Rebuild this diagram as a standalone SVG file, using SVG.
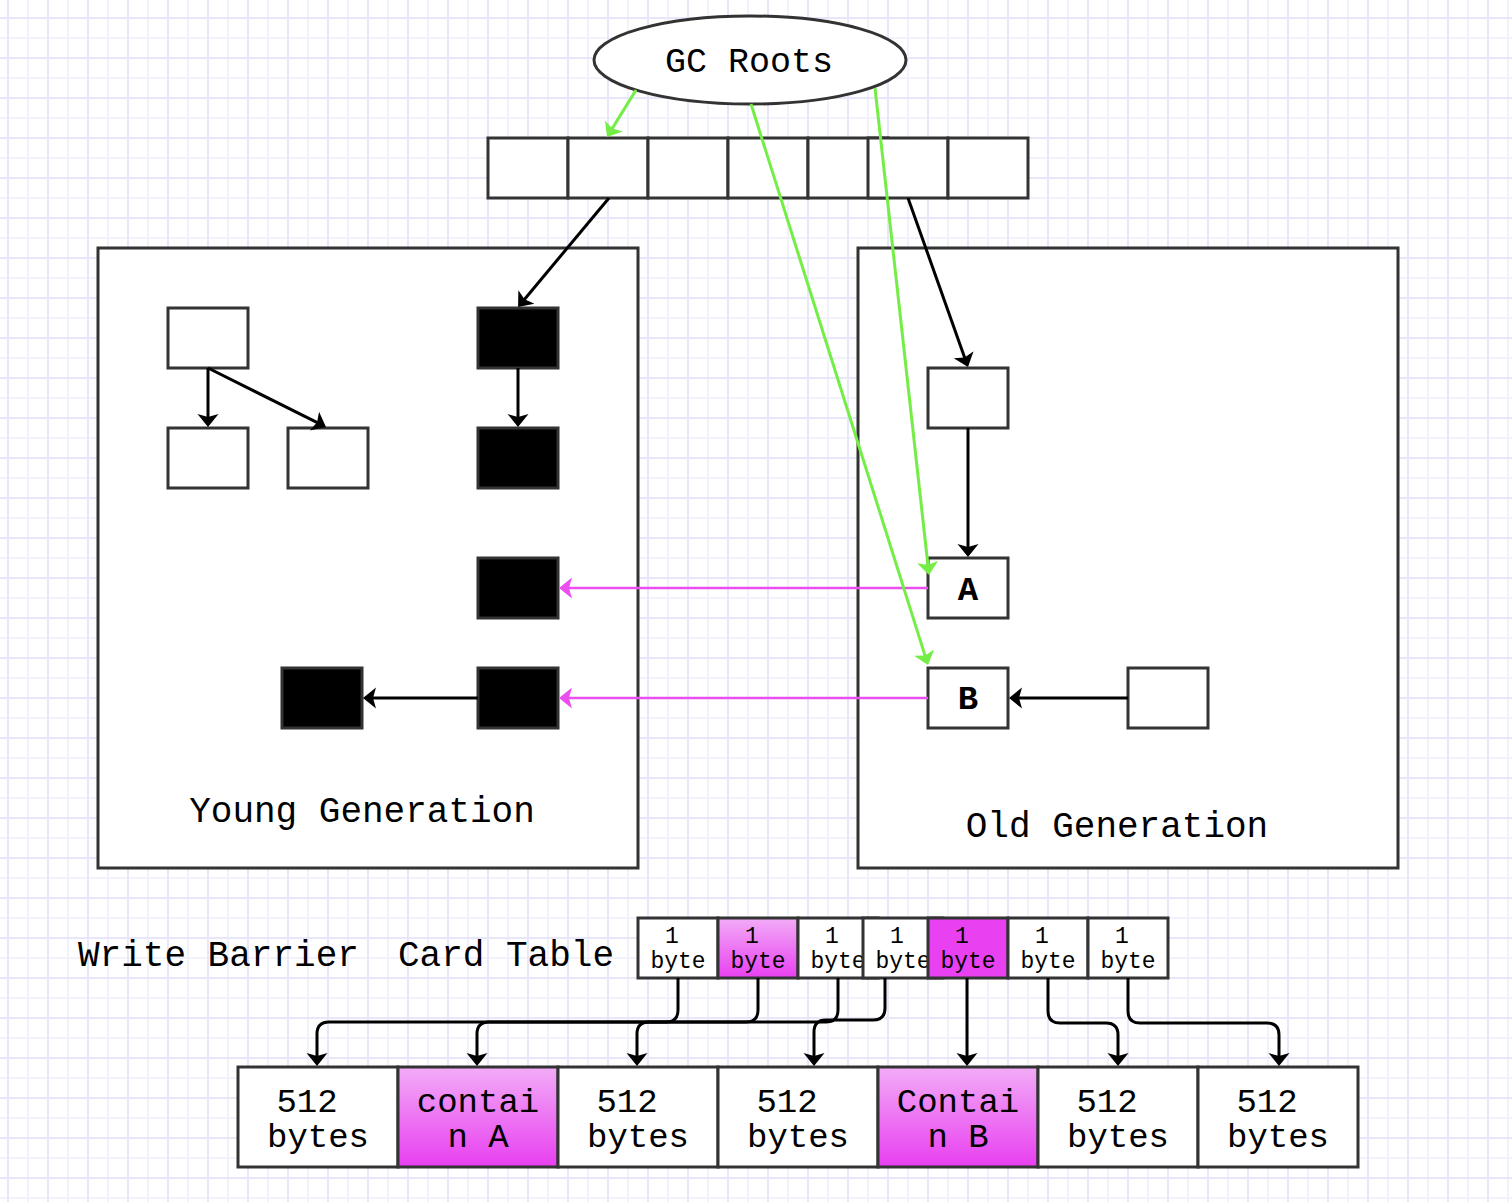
<svg xmlns="http://www.w3.org/2000/svg" width="1512" height="1202" viewBox="0 0 1512 1202">
<style>
.box{fill:#fff;stroke:#333;stroke-width:3}
.blk{fill:#000;stroke:#333;stroke-width:3}
.t{font-family:"Liberation Mono","Courier New",monospace;fill:#000}
.big{font-size:36px}
.mid{font-size:35px}
.card{font-size:34px}
.sm{font-size:23px}
.bold{font-weight:bold;font-size:34px}
.ln{fill:none;stroke:#000;stroke-width:3}
.gr{fill:none;stroke:#74ee46;stroke-width:3}
.mg{fill:none;stroke:#ec4ff0;stroke-width:2.5}
</style>
<defs>
<pattern id="grid" patternUnits="userSpaceOnUse" x="7" y="17" width="40" height="40">
<rect width="40" height="40" fill="#fff"/>
<path d="M21,0 V40 M0,21 H40" stroke="#f2f2fd" stroke-width="2"/>
<path d="M1,0 V40 M0,1 H40" stroke="#e7e7f9" stroke-width="2"/>
</pattern>
<linearGradient id="pinkg" x1="0" y1="0" x2="0" y2="1">
<stop offset="0" stop-color="#f2acf7"/>
<stop offset="1" stop-color="#e83ff0"/>
</linearGradient>
<marker id="ah" markerUnits="userSpaceOnUse" markerWidth="16" markerHeight="24" viewBox="0 0 16 24" refX="10" refY="12" orient="auto">
<path d="M13,12 L0,1.5 L3,12 L0,22.5 Z" fill="#000"/>
</marker>
<marker id="ahg" markerUnits="userSpaceOnUse" markerWidth="16" markerHeight="24" viewBox="0 0 16 24" refX="10" refY="12" orient="auto">
<path d="M13,12 L0,1.5 L3,12 L0,22.5 Z" fill="#74ee46"/>
</marker>
<marker id="ahm" markerUnits="userSpaceOnUse" markerWidth="16" markerHeight="24" viewBox="0 0 16 24" refX="10" refY="12" orient="auto">
<path d="M13,12 L0,1.5 L3,12 L0,22.5 Z" fill="#ec4ff0"/>
</marker>
</defs>
<rect x="0" y="0" width="1512" height="1202" fill="url(#grid)"/>

<g id="young-generation">
<rect class="box" x="98" y="248" width="540" height="620"/>
<text class="t big" x="362" y="822" text-anchor="middle">Young Generation</text>
</g>
<g id="old-generation">
<rect class="box" x="858" y="248" width="540" height="620"/>
<text class="t big" x="1117" y="837" text-anchor="middle">Old Generation</text>
</g>

<g id="gc-roots">
<ellipse cx="750" cy="60" rx="156" ry="44" fill="#fff" stroke="#333" stroke-width="3"/>
<text class="t mid" x="749" y="72" text-anchor="middle">GC Roots</text>
</g>

<g id="root-array">
<rect class="box" x="488" y="138" width="80" height="60"/>
<rect class="box" x="568" y="138" width="80" height="60"/>
<rect class="box" x="648" y="138" width="80" height="60"/>
<rect class="box" x="728" y="138" width="80" height="60"/>
<rect class="box" x="808" y="138" width="80" height="60"/>
<rect class="box" x="868" y="138" width="80" height="60"/>
<rect class="box" x="948" y="138" width="80" height="60"/>
</g>

<g id="young-w1"><rect class="box" x="168" y="308" width="80" height="60"/></g>
<g id="young-w2"><rect class="box" x="168" y="428" width="80" height="60"/></g>
<g id="young-w3"><rect class="box" x="288" y="428" width="80" height="60"/></g>
<g id="young-b1"><rect class="blk" x="478" y="308" width="80" height="60"/></g>
<g id="young-b2"><rect class="blk" x="478" y="428" width="80" height="60"/></g>
<g id="young-b3"><rect class="blk" x="478" y="558" width="80" height="60"/></g>
<g id="young-b4"><rect class="blk" x="478" y="668" width="80" height="60"/></g>
<g id="young-b5"><rect class="blk" x="282" y="668" width="80" height="60"/></g>

<g id="old-top"><rect class="box" x="928" y="368" width="80" height="60"/></g>
<g id="old-a"><rect class="box" x="928" y="558" width="80" height="60"/><text class="t bold" x="968" y="600" text-anchor="middle">A</text></g>
<g id="old-b"><rect class="box" x="928" y="668" width="80" height="60"/><text class="t bold" x="968" y="709" text-anchor="middle">B</text></g>
<g id="old-right"><rect class="box" x="1128" y="668" width="80" height="60"/></g>

<g id="labels">
<text class="t big" x="78" y="966">Write Barrier</text>
<text class="t big" x="398" y="966">Card Table</text>
</g>

<g id="card-table">
<rect class="box" x="638" y="918" width="80" height="60"/>
<text class="t sm" x="672" y="943" text-anchor="middle">1</text><text class="t sm" x="678" y="968" text-anchor="middle">byte</text>
<rect x="718" y="918" width="80" height="60" fill="url(#pinkg)" stroke="#333" stroke-width="3"/>
<text class="t sm" x="752" y="943" text-anchor="middle">1</text><text class="t sm" x="758" y="968" text-anchor="middle">byte</text>
<rect class="box" x="798" y="918" width="80" height="60"/>
<text class="t sm" x="832" y="943" text-anchor="middle">1</text><text class="t sm" x="838" y="968" text-anchor="middle">byte</text>
<rect class="box" x="863" y="918" width="80" height="60"/>
<text class="t sm" x="897" y="943" text-anchor="middle">1</text><text class="t sm" x="903" y="968" text-anchor="middle">byte</text>
<rect x="928" y="918" width="80" height="60" fill="#e941f1" stroke="#333" stroke-width="3"/>
<text class="t sm" x="962" y="943" text-anchor="middle">1</text><text class="t sm" x="968" y="968" text-anchor="middle">byte</text>
<rect class="box" x="1008" y="918" width="80" height="60"/>
<text class="t sm" x="1042" y="943" text-anchor="middle">1</text><text class="t sm" x="1048" y="968" text-anchor="middle">byte</text>
<rect class="box" x="1088" y="918" width="80" height="60"/>
<text class="t sm" x="1122" y="943" text-anchor="middle">1</text><text class="t sm" x="1128" y="968" text-anchor="middle">byte</text>
</g>

<g id="memory-cards">
<rect class="box" x="238" y="1067" width="160" height="100"/>
<text class="t card" x="307" y="1112" text-anchor="middle">512</text><text class="t card" x="318" y="1147" text-anchor="middle">bytes</text>
<rect x="398" y="1067" width="160" height="100" fill="url(#pinkg)" stroke="#333" stroke-width="3"/>
<text class="t card" x="478" y="1112" text-anchor="middle">contai</text><text class="t card" x="478" y="1147" text-anchor="middle">n A</text>
<rect class="box" x="558" y="1067" width="160" height="100"/>
<text class="t card" x="627" y="1112" text-anchor="middle">512</text><text class="t card" x="638" y="1147" text-anchor="middle">bytes</text>
<rect class="box" x="718" y="1067" width="160" height="100"/>
<text class="t card" x="787" y="1112" text-anchor="middle">512</text><text class="t card" x="798" y="1147" text-anchor="middle">bytes</text>
<rect x="878" y="1067" width="160" height="100" fill="url(#pinkg)" stroke="#333" stroke-width="3"/>
<text class="t card" x="958" y="1112" text-anchor="middle">Contai</text><text class="t card" x="958" y="1147" text-anchor="middle">n B</text>
<rect class="box" x="1038" y="1067" width="160" height="100"/>
<text class="t card" x="1107" y="1112" text-anchor="middle">512</text><text class="t card" x="1118" y="1147" text-anchor="middle">bytes</text>
<rect class="box" x="1198" y="1067" width="160" height="100"/>
<text class="t card" x="1267" y="1112" text-anchor="middle">512</text><text class="t card" x="1278" y="1147" text-anchor="middle">bytes</text>
</g>

<g id="connectors">
<path class="ln" d="M609,198 L520,304.7" marker-end="url(#ah)"/>
<path class="ln" d="M208,368 V424" marker-end="url(#ah)"/>
<path class="ln" d="M208,368 L323.3,425.7" marker-end="url(#ah)"/>
<path class="ln" d="M518,368 V424" marker-end="url(#ah)"/>
<path class="ln" d="M478,698 H366" marker-end="url(#ah)"/>
<path class="ln" d="M908,198 L967,364.2" marker-end="url(#ah)"/>
<path class="ln" d="M968,428 V554" marker-end="url(#ah)"/>
<path class="ln" d="M1128,698 H1012" marker-end="url(#ah)"/>
<path class="mg" d="M928,588 H562" marker-end="url(#ahm)"/>
<path class="mg" d="M928,698 H562" marker-end="url(#ahm)"/>
<path class="gr" d="M636,90 L608.6,134.4" marker-end="url(#ahg)"/>
<path class="gr" d="M751,104 L927.1,662.1" marker-end="url(#ahg)"/>
<path class="gr" d="M875,88 L928.7,572" marker-end="url(#ahg)"/>
<path class="ln" d="M678,978 V1010 Q678,1022 666,1022 H329 Q317,1022 317,1034 V1063" marker-end="url(#ah)"/>
<path class="ln" d="M758,978 V1010 Q758,1022 746,1022 H489 Q477,1022 477,1034 V1063" marker-end="url(#ah)"/>
<path class="ln" d="M838,978 V1010 Q838,1022 826,1022 H649 Q637,1022 637,1034 V1063" marker-end="url(#ah)"/>
<path class="ln" d="M885,978 V1008 Q885,1020 873,1020 H826 Q814,1020 814,1032 V1063" marker-end="url(#ah)"/>
<path class="ln" d="M967,978 V1063" marker-end="url(#ah)"/>
<path class="ln" d="M1048,978 V1011 Q1048,1023 1060,1023 H1106 Q1118,1023 1118,1035 V1063" marker-end="url(#ah)"/>
<path class="ln" d="M1128,978 V1011 Q1128,1023 1140,1023 H1267 Q1279,1023 1279,1035 V1063" marker-end="url(#ah)"/>
</g>
</svg>
